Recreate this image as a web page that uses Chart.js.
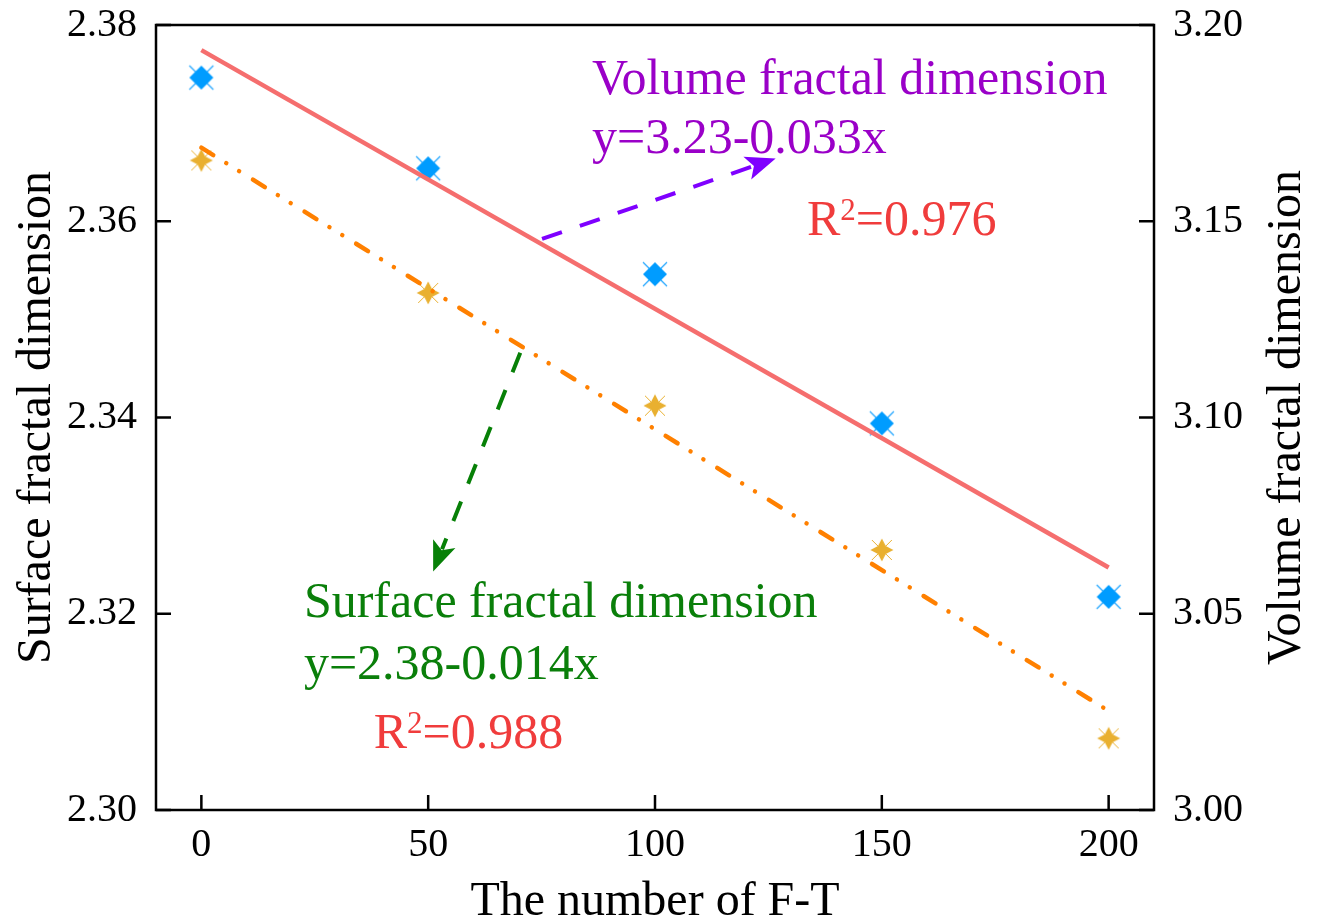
<!DOCTYPE html>
<html>
<head>
<meta charset="utf-8">
<script src="https://cdn.jsdelivr.net/npm/chart.js@4.4.1/dist/chart.umd.min.js"></script>
<style>
  html, body { margin: 0; padding: 0; background: #ffffff; }
  #wrap { width: 1318px; height: 923px; position: relative; }
</style>
</head>
<body>
<div id="wrap"><canvas id="c" width="1318" height="923"></canvas></div>
<script>
// ---- data ----
const cycles = [0, 50, 100, 150, 200];
const surfaceDim = [2.3662, 2.3527, 2.3412, 2.3265, 2.3073];
const volumeDim = [3.1866, 3.1635, 3.1365, 3.0985, 3.0543];
const fitX = [0, 200];
const surfaceFit = [2.3675, 2.3101];
const volumeFit = [3.1936, 3.0618];
const xTicks = [0, 50, 100, 150, 200];
const yLeftTicks = [2.30, 2.32, 2.34, 2.36, 2.38];
const yRightTicks = [3.00, 3.05, 3.10, 3.15, 3.20];
const xTitle = 'The number of F-T';
const yLeftTitle = 'Surface fractal dimension';
const yRightTitle = 'Volume fractal dimension';

const SERIF = "'Liberation Serif', 'Times New Roman', serif";

function makeDiamond() {
  const c = document.createElement('canvas');
  c.width = 28; c.height = 28;
  const g = c.getContext('2d');
  g.translate(14, 14);
  g.strokeStyle = '#22a6ff'; g.lineWidth = 1.2;
  g.beginPath(); g.moveTo(-12, -12); g.lineTo(12, 12); g.moveTo(12, -12); g.lineTo(-12, 12); g.stroke();
  g.fillStyle = '#009cff';
  g.beginPath(); g.moveTo(0, -12); g.lineTo(12, 0); g.lineTo(0, 12); g.lineTo(-12, 0); g.closePath(); g.fill();
  return c;
}
function makeStar() {
  const c = document.createElement('canvas');
  c.width = 28; c.height = 28;
  const g = c.getContext('2d');
  g.translate(14, 14);
  g.strokeStyle = '#e9b030'; g.lineWidth = 1;
  g.beginPath(); g.moveTo(-10, -10); g.lineTo(10, 10); g.moveTo(10, -10); g.lineTo(-10, 10); g.stroke();
  g.fillStyle = '#e9b030';
  g.beginPath();
  const R = 11.5, r = 5.5;
  for (let i = 0; i < 8; i++) {
    const a = -Math.PI / 2 + i * Math.PI / 4;
    const rad = i % 2 === 0 ? R : r;
    const px = Math.cos(a) * rad, py = Math.sin(a) * rad;
    if (i === 0) g.moveTo(px, py); else g.lineTo(px, py);
  }
  g.closePath(); g.fill();
  return c;
}

// annotation positions in data units (x, left-axis y)
const notes = [
  { text: 'Volume fractal dimension', x: 86.1, y: 2.3730, color: '#9a00c8' },
  { text: 'y=3.23-0.033x', x: 86.1, y: 2.36696, color: '#9a00c8' },
  { text: 'R', sup: '2', rest: '=0.976', x: 133.5, y: 2.35855, color: '#f03c3c' },
  { text: 'Surface fractal dimension', x: 22.6, y: 2.31967, color: '#0a7f0a' },
  { text: 'y=2.38-0.014x', x: 22.6, y: 2.31335, color: '#0a7f0a' },
  { text: 'R', sup: '2', rest: '=0.988', x: 38.0, y: 2.30632, color: '#f03c3c' }
];
const arrows = [
  { x1: 75.1, y1: 2.3582, x2: 126.6, y2: 2.3664, color: '#7f00ff' },
  { x1: 70.3, y1: 2.3466, x2: 51.1, y2: 2.3243, color: '#078007' }
];

const decor = {
  id: 'decor',
  afterDatasetsDraw(chart) {
    const ctx = chart.ctx;
    const a = chart.chartArea;
    const sx = chart.scales.x, sy = chart.scales.y, sy2 = chart.scales.y2;
    ctx.save();
    ctx.strokeStyle = '#000'; ctx.lineWidth = 2.5;
    ctx.strokeRect(a.left, a.top, a.right - a.left, a.bottom - a.top);
    const TL = 15;
    ctx.beginPath();
    sx.ticks.forEach(t => { const p = sx.getPixelForValue(t.value); ctx.moveTo(p, a.bottom); ctx.lineTo(p, a.bottom - TL); });
    sy.ticks.forEach(t => { const p = sy.getPixelForValue(t.value); ctx.moveTo(a.left, p); ctx.lineTo(a.left + TL, p); });
    sy2.ticks.forEach(t => { const p = sy2.getPixelForValue(t.value); ctx.moveTo(a.right, p); ctx.lineTo(a.right - TL, p); });
    ctx.stroke();
    ctx.restore();

    arrows.forEach(ar => {
      const x1 = sx.getPixelForValue(ar.x1), y1 = sy.getPixelForValue(ar.y1);
      const x2 = sx.getPixelForValue(ar.x2), y2 = sy.getPixelForValue(ar.y2);
      const ang = Math.atan2(y2 - y1, x2 - x1);
      const HL = 30, HW = 12;
      const bx = x2 - Math.cos(ang) * HL, by = y2 - Math.sin(ang) * HL;
      ctx.save();
      ctx.strokeStyle = ar.color; ctx.fillStyle = ar.color;
      ctx.lineWidth = 4; ctx.setLineDash([21, 19]);
      ctx.beginPath(); ctx.moveTo(x1, y1); ctx.lineTo(bx + Math.cos(ang) * 6, by + Math.sin(ang) * 6); ctx.stroke();
      ctx.setLineDash([]);
      ctx.beginPath();
      ctx.moveTo(x2, y2);
      ctx.lineTo(bx + Math.cos(ang + Math.PI / 2) * HW, by + Math.sin(ang + Math.PI / 2) * HW);
      ctx.lineTo(bx + Math.cos(ang) * 7, by + Math.sin(ang) * 7);
      ctx.lineTo(bx - Math.cos(ang + Math.PI / 2) * HW, by - Math.sin(ang + Math.PI / 2) * HW);
      ctx.closePath(); ctx.fill();
      ctx.restore();
    });
  },
  afterDraw(chart) {
    const ctx = chart.ctx;
    const a = chart.chartArea;
    const sx = chart.scales.x, sy = chart.scales.y;
    ctx.save();
    ctx.textBaseline = 'alphabetic';
    ctx.textAlign = 'left';
    notes.forEach(n => {
      const px = sx.getPixelForValue(n.x), py = sy.getPixelForValue(n.y);
      ctx.fillStyle = n.color;
      ctx.font = '50px ' + SERIF;
      ctx.fillText(n.text, px, py);
      if (n.sup) {
        let cx = px + ctx.measureText(n.text).width;
        ctx.font = '31px ' + SERIF;
        ctx.fillText(n.sup, cx, py - 15);
        cx += ctx.measureText(n.sup).width;
        ctx.font = '50px ' + SERIF;
        ctx.fillText(n.rest, cx, py);
      }
    });
    ctx.fillStyle = '#000';
    ctx.font = '48px ' + SERIF;
    ctx.translate(a.right + 146, (a.top + a.bottom) / 2);
    ctx.rotate(-Math.PI / 2);
    ctx.textAlign = 'center';
    ctx.fillText(yRightTitle, 0, 0);
    ctx.restore();
  }
};

const diamondImg = makeDiamond();
const starImg = makeStar();

function noPad(s) { s.paddingTop = 0; s.paddingBottom = 0; s.paddingLeft = 0; s.paddingRight = 0; }

new Chart(document.getElementById('c'), {
  type: 'scatter',
  data: {
    datasets: [
      {
        label: 'Volume fit',
        data: fitX.map((x, i) => ({ x, y: volumeFit[i] })),
        yAxisID: 'y2',
        showLine: true,
        borderColor: '#f56e6e',
        borderWidth: 4.5,
        pointRadius: 0,
        order: 1
      },
      {
        label: 'Surface fit',
        data: fitX.map((x, i) => ({ x, y: surfaceFit[i] })),
        yAxisID: 'y',
        showLine: true,
        borderColor: '#ff8000',
        borderWidth: 4.5,
        borderCapStyle: 'round',
        borderDash: [14, 15.3, 0.01, 15.1, 0.01, 16.3],
        pointRadius: 0,
        order: 2
      },
      {
        label: 'Volume fractal dimension',
        data: cycles.map((x, i) => ({ x, y: volumeDim[i] })),
        yAxisID: 'y2',
        showLine: false,
        pointStyle: diamondImg,
        pointRadius: 12,
        order: 3
      },
      {
        label: 'Surface fractal dimension',
        data: cycles.map((x, i) => ({ x, y: surfaceDim[i] })),
        yAxisID: 'y',
        showLine: false,
        pointStyle: starImg,
        pointRadius: 12,
        order: 4
      }
    ]
  },
  options: {
    responsive: false,
    animation: false,
    layout: { padding: { top: 25, left: 0, right: 0, bottom: 0 } },
    plugins: { legend: { display: false }, tooltip: { enabled: false } },
    scales: {
      x: {
        type: 'linear', position: 'bottom', min: -10, max: 210,
        afterBuildTicks: s => { s.ticks = xTicks.map(v => ({ value: v })); },
        afterFit: s => { s.height = 113; noPad(s); },
        grid: { display: false, drawTicks: false },
        border: { display: false },
        ticks: { color: '#000', font: { family: SERIF, size: 40 }, padding: 11, maxRotation: 0, callback: v => String(v) },
        title: { display: true, text: xTitle, color: '#000', font: { family: SERIF, size: 48, lineHeight: 1.2 }, padding: { top: 0, bottom: -8 } }
      },
      y: {
        type: 'linear', position: 'left', min: 2.30, max: 2.38,
        afterBuildTicks: s => { s.ticks = yLeftTicks.map(v => ({ value: v })); },
        afterFit: s => { s.width = 156; noPad(s); },
        grid: { display: false, drawTicks: false },
        border: { display: false },
        ticks: { color: '#000', font: { family: SERIF, size: 40 }, padding: 19, callback: v => Number(v).toFixed(2) },
        title: { display: true, text: yLeftTitle, color: '#000', font: { family: SERIF, size: 48, lineHeight: 1.2 }, padding: { top: 9, bottom: 0 } }
      },
      y2: {
        type: 'linear', position: 'right', min: 3.00, max: 3.20,
        afterBuildTicks: s => { s.ticks = yRightTicks.map(v => ({ value: v })); },
        afterFit: s => { s.width = 164; noPad(s); },
        grid: { display: false, drawTicks: false },
        border: { display: false },
        ticks: { color: '#000', font: { family: SERIF, size: 40 }, padding: 19, callback: v => Number(v).toFixed(2) },
        title: { display: false }
      }
    }
  },
  plugins: [decor]
});
</script>
</body>
</html>
